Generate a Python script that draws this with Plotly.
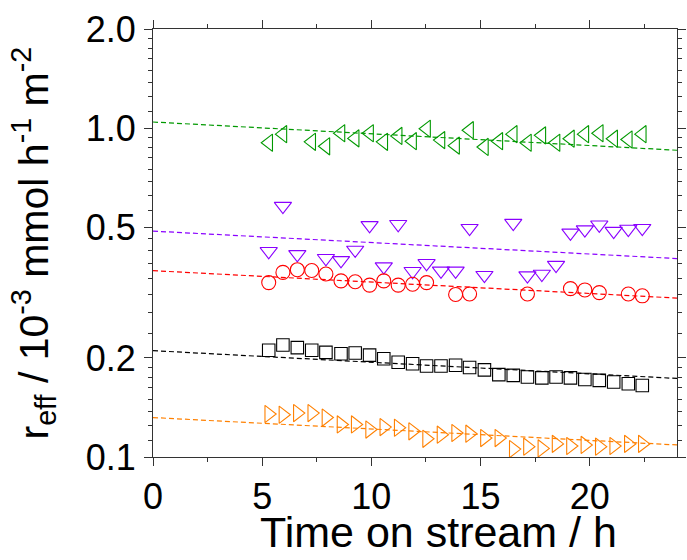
import plotly.graph_objects as go

# time grid values (h)
green_t = [5.30, 5.95, 7.27, 7.92, 8.61, 9.26, 9.92, 10.57, 11.23, 11.89, 12.53, 13.19, 13.86, 14.50,
           15.18, 15.84, 16.50, 17.15, 17.81, 18.46, 19.12, 19.78, 20.44, 21.10, 21.77, 22.41]
green_v = [0.902, 0.958, 0.908, 0.880, 0.964, 0.930, 0.964, 0.908, 0.946, 0.912, 0.995, 0.919, 0.884,
           0.985, 0.876, 0.912, 0.958, 0.902, 0.950, 0.902, 0.928, 0.958, 0.964, 0.928, 0.923, 0.958]

purple_t = [5.30, 5.95, 6.61, 7.92, 8.61, 9.26, 9.92, 10.57, 11.23, 11.89, 12.53, 13.19, 13.86, 14.50,
            15.18, 16.50, 17.15, 17.81, 18.46, 19.12, 19.78, 20.44, 21.10, 21.77, 22.41]
purple_v = [0.422, 0.579, 0.413, 0.402, 0.396, 0.426, 0.506, 0.379, 0.510, 0.367, 0.388, 0.368, 0.368,
            0.496, 0.357, 0.514, 0.356, 0.360, 0.383, 0.480, 0.491, 0.508, 0.486, 0.493, 0.496]

red_t = [5.30, 5.95, 6.61, 7.27, 7.92, 8.61, 9.26, 9.92, 10.57, 11.23, 11.89, 12.53, 13.86, 14.50,
         17.15, 19.12, 19.78, 20.44, 21.77, 22.41]
red_v = [0.339, 0.364, 0.371, 0.369, 0.360, 0.343, 0.341, 0.333, 0.343, 0.333, 0.335, 0.339, 0.312,
         0.313, 0.313, 0.325, 0.322, 0.316, 0.313, 0.309]

black_t = [5.30, 5.95, 6.61, 7.27, 7.92, 8.61, 9.26, 9.92, 10.57, 11.23, 11.89, 12.53, 13.19, 13.86,
           14.50, 15.18, 15.84, 16.50, 17.15, 17.81, 18.46, 19.12, 19.78, 20.44, 21.10, 21.77, 22.41]
black_v = [0.211, 0.219, 0.215, 0.211, 0.208, 0.206, 0.207, 0.204, 0.199, 0.194, 0.192, 0.189, 0.189,
           0.190, 0.187, 0.184, 0.178, 0.177, 0.175, 0.174, 0.175, 0.174, 0.172, 0.171, 0.169, 0.167, 0.165]

orange_t = [5.30, 5.95, 6.61, 7.27, 7.92, 8.61, 9.26, 9.92, 10.57, 11.23, 11.89, 12.53, 13.19, 13.86,
            14.50, 15.18, 15.84, 16.50, 17.15, 17.81, 18.46, 19.12, 19.78, 20.44, 21.10, 21.77, 22.41]
orange_v = [0.1351, 0.1344, 0.1360, 0.1360, 0.1318, 0.1256, 0.1256, 0.1212, 0.1233, 0.1227, 0.1197,
            0.1136, 0.1169, 0.1183, 0.1177, 0.1142, 0.1142, 0.1057, 0.1075, 0.1062, 0.1096, 0.1080,
            0.1088, 0.1075, 0.1080, 0.1096, 0.1096]

# dashed trend lines (start at t=0, end at t=24)
trend_t = [0, 24]
green_trend = [1.043, 0.856]
purple_trend = [0.486, 0.401]
red_trend = [0.3685, 0.3042]
black_trend = [0.2105, 0.1733]
orange_trend = [0.1318, 0.1088]

x_ticks = [0, 5, 10, 15, 20]
x_minor = [2.5, 7.5, 12.5, 17.5, 22.5]
y_ticks = [0.1, 0.2, 0.5, 1.0, 2.0]
y_ticktext = ["0.1", "0.2", "0.5", "1.0", "2.0"]
y_minor = [0.1125, 0.125, 0.1375, 0.15, 0.1625, 0.175, 0.1875,
           0.2375, 0.275, 0.3125, 0.35, 0.3875, 0.425, 0.4625,
           0.5625, 0.625, 0.6875, 0.75, 0.8125, 0.875, 0.9375,
           1.125, 1.25, 1.375, 1.5, 1.625, 1.75, 1.875]

series = [
    (green_t, green_v, green_trend, "#009900", "triangle-left", 15),
    (purple_t, purple_v, purple_trend, "#8A00FF", "triangle-down", 15),
    (red_t, red_v, red_trend, "#FF0000", "circle", 14),
    (black_t, black_v, black_trend, "#000000", "square", 12.5),
    (orange_t, orange_v, orange_trend, "#FF8000", "triangle-right", 15),
]

fig = go.Figure()
for t, v, tr, col, sym, sz in series:
    fig.add_trace(go.Scatter(x=trend_t, y=tr, mode="lines",
                             line=dict(color=col, width=1.2, dash="5px,3px"),
                             showlegend=False, hoverinfo="skip"))
for t, v, tr, col, sym, sz in series:
    fig.add_trace(go.Scatter(x=t, y=v, mode="markers",
                             marker=dict(symbol=sym + "-open", size=sz, color=col,
                                         line=dict(color=col, width=1.1)),
                             showlegend=False))

axis_common = dict(showline=True, linecolor="#333333", linewidth=1, mirror="ticks",
                   ticks="outside", ticklen=8, tickwidth=1, tickcolor="#333333",
                   showgrid=False, zeroline=False,
                   tickfont=dict(family="Liberation Sans, Arial", size=36, color="#000000"))

fig.update_layout(
    width=687, height=560,
    margin=dict(l=153, r=1, t=29, b=103),
    paper_bgcolor="white", plot_bgcolor="white",
    xaxis=dict(range=[0, 24], tickvals=x_ticks, ticklabelstandoff=0,
               minor=dict(tickvals=x_minor, ticks="outside", ticklen=4, tickcolor="#333333"),
               **axis_common),
    yaxis=dict(type="log", range=[-1, 0.30103], tickvals=y_ticks, ticktext=y_ticktext,
               ticklabelstandoff=1,
               minor=dict(tickvals=y_minor, ticks="outside", ticklen=4, tickcolor="#333333"),
               **axis_common),
    annotations=[
        dict(text="Time on stream / h", xref="paper", yref="paper", x=0.545, y=-0.237,
             xanchor="center", yanchor="bottom", showarrow=False,
             font=dict(family="Liberation Sans, Arial", size=43, color="#000000")),
        dict(text="r<sub>eff</sub> / 10<sup>-3</sup> mmol h<sup>-1</sup> m<sup>-2</sup>",
             xref="paper", yref="paper", x=-0.228, y=0.5, textangle=-90,
             xanchor="center", yanchor="middle", showarrow=False,
             font=dict(family="Liberation Sans, Arial", size=41, color="#000000")),
    ],
)

fig.write_html("out.html")
